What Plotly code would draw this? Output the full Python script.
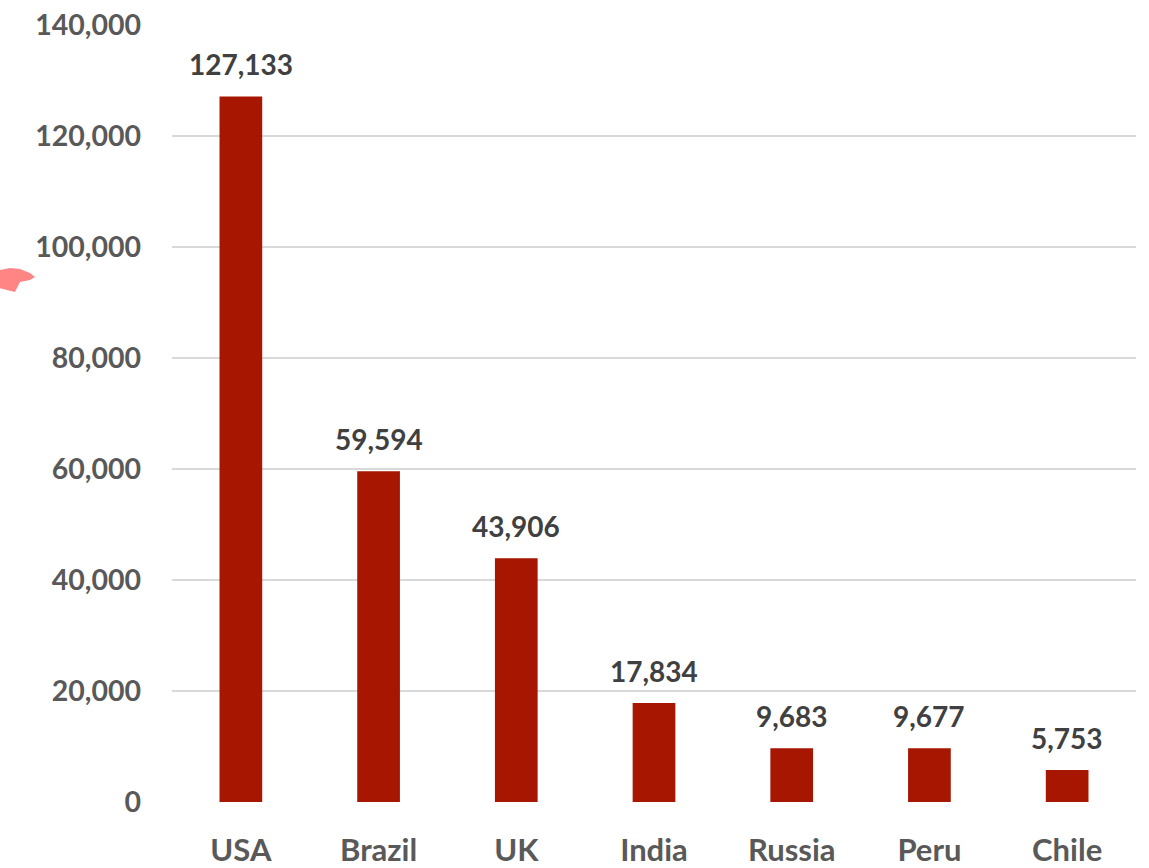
import plotly.graph_objects as go

countries = ["USA", "Brazil", "UK", "India", "Russia", "Peru", "Chile"]
deaths = [127133, 59594, 43906, 17834, 9683, 9677, 5753]
y_ticks = [0, 20000, 40000, 60000, 80000, 100000, 120000, 140000]
y_tick_labels = ["0", "20,000", "40,000", "60,000", "80,000", "100,000", "120,000", "140,000"]

BAR = "#A61600"
FONT = "Lato"

fig = go.Figure(go.Bar(x=countries, y=deaths, marker=dict(color=BAR, line=dict(width=0))))

for c, v in zip(countries, deaths):
    fig.add_annotation(x=c, y=v, text=f"<b>{v:,}</b>", showarrow=False,
                       yanchor="bottom", yshift=13,
                       font=dict(family=FONT, size=28, color="#404040"))

# small pink decorative blob at the left edge (as in the source image)
fig.add_shape(type="path", xref="paper", yref="paper",
              path="M -0.1784 0.6847 L -0.1680 0.6873 L -0.1577 0.6860 L -0.1473 0.6808 "
                   "L -0.1421 0.6757 L -0.1473 0.6718 L -0.1577 0.6692 L -0.1629 0.6564 "
                   "L -0.1712 0.6590 L -0.1800 0.6615 Z",
              fillcolor="#FF8585", line=dict(width=0))

fig.update_layout(
    width=1149, height=868,
    margin=dict(l=172, r=13, t=25, b=66),
    paper_bgcolor="white", plot_bgcolor="white",
    bargap=0.69, showlegend=False,
    font=dict(family=FONT),
)
fig.update_yaxes(range=[0, 140000], tickvals=y_ticks, ticktext=[f"<b>{t}</b>" for t in y_tick_labels],
                 showgrid=True, gridcolor="#D9D9D9", gridwidth=2, zeroline=False,
                 showline=False, ticklabelstandoff=30, automargin=False,
                 tickfont=dict(family=FONT, size=28.5, color="#595959"))
fig.update_xaxes(tickvals=countries, ticktext=[f"<b>{c}</b>" for c in countries],
                 showline=False, ticklabelstandoff=27, automargin=False,
                 tickfont=dict(family=FONT, size=31, color="#595959"))

fig.write_html("out.html")
